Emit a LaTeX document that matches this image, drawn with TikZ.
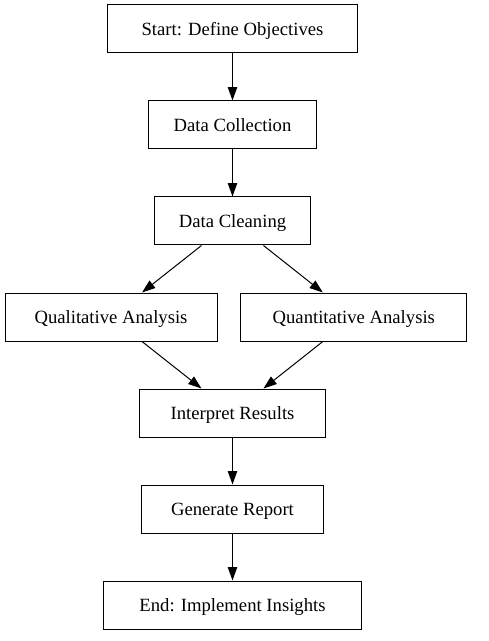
\documentclass[tikz,border=0pt]{standalone}
\usepackage{fontspec}
\setmainfont{Liberation Serif}
\usetikzlibrary{arrows.meta}
\begin{document}
\begin{tikzpicture}[x=0.75pt,y=-0.75pt,
  box/.style={draw=black,line width=0.75pt,rectangle,inner sep=0pt,minimum height=36pt,text height=11pt,text depth=1.6pt,font=\fontsize{14pt}{16pt}\selectfont},
  link/.style={draw=black,line width=0.75pt,-{Triangle[length=10pt,width=7pt]}}]
\useasboundingbox (0,0) rectangle (488,641);
\node[box,minimum width=187.5pt] (start) at (232.5,29) {Start: Define Objectives};
\node[box,minimum width=125.8pt] (coll) at (232.5,125) {Data Collection};
\node[box,minimum width=117.5pt] (clean) at (232.5,221) {Data Cleaning};
\node[box,minimum width=159pt] (qual) at (111,317) {Qualitative Analysis};
\node[box,minimum width=169.3pt] (quant) at (353.8,317) {Quantitative Analysis};
\node[box,minimum width=139.5pt] (interp) at (232.5,413) {Interpret Results};
\node[box,minimum width=135.8pt] (report) at (232.5,509) {Generate Report};
\node[box,minimum width=193.3pt] (end) at (232.5,605) {End: Implement Insights};
\draw[link] (start) -- (coll);
\draw[link] (coll) -- (clean);
\draw[link] (clean) -- (qual);
\draw[link] (clean) -- (quant);
\draw[link] (qual) -- (interp);
\draw[link] (quant) -- (interp);
\draw[link] (interp) -- (report);
\draw[link] (report) -- (end);
\end{tikzpicture}
\end{document}
